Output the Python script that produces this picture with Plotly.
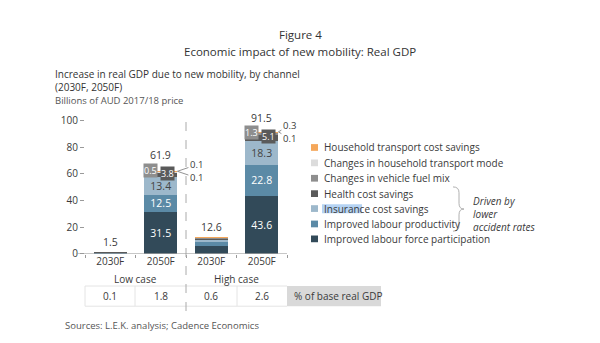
import plotly.graph_objects as go

# ---------------- data ----------------
bar_labels = ["2030F", "2050F", "2030F", "2050F"]
case_labels = ["Low case", "High case"]
series_names = [
    "Improved labour force participation",
    "Improved labour productivity",
    "Insurance cost savings",
    "Health cost savings",
    "Changes in vehicle fuel mix",
    "Changes in household transport mode",
    "Household transport cost savings",
]
participation = [0.8, 31.5, 6.0, 43.6]
productivity = [0.3, 12.5, 3.0, 22.8]
insurance = [0.3, 13.4, 2.3, 18.3]
health = [0.1, 3.8, 0.7, 5.1]
fuel_mix = [0.0, 0.5, 0.3, 1.3]
transport_mode = [0.0, 0.1, 0.1, 0.1]
transport_cost = [0.0, 0.1, 0.2, 0.3]
totals = [1.5, 61.9, 12.6, 91.5]
pct_base_gdp = ["0.1", "1.8", "0.6", "2.6"]

series_values = [participation, productivity, insurance, health,
                 fuel_mix, transport_mode, transport_cost]
colors = ["#324a59", "#5b8aa6", "#9db8cb", "#5a5a5a", "#8e8e8e", "#dcdcdc", "#f5a75a"]
# which segments carry an inside label (only the big 2050F ones)
inside_label_font = ["white", "white", "#444444", None, None, None, None]

FONT = "Open Sans"
W, H = 600, 343
TXT = "#3a3a3a"


def px(x):
    return x / W


def py(y):
    return 1 - y / H


x_pos = list(range(len(bar_labels)))
fig = go.Figure()
for i, (name, vals, col) in enumerate(zip(series_names, series_values, colors)):
    txt = []
    for j, v in enumerate(vals):
        if inside_label_font[i] is not None and bar_labels[j] == "2050F":
            txt.append(f"{v:.1f}")
        else:
            txt.append("")
    fig.add_trace(go.Bar(
        x=x_pos, y=vals, name=name, marker=dict(color=col, line=dict(width=0)),
        width=0.66, text=txt, textposition="inside", insidetextanchor="middle",
        textangle=0, constraintext="none",
        textfont=dict(color=inside_label_font[i] or "white", size=10.5, family=FONT),
        showlegend=False, hoverinfo="name+y",
    ))

ann = []
shapes = []


def A(**kw):
    kw.setdefault("showarrow", False)
    kw.setdefault("yanchor", "middle")
    kw.setdefault("xanchor", "center")
    ann.append(kw)


# totals above bars
total_shift = [1, 7, 1, 5]
for j, t in enumerate(totals):
    A(x=j, y=t, xref="x", yref="y", text=f"{t:.1f}", yanchor="bottom",
      yshift=total_shift[j], font=dict(size=10.5, color=TXT, family=FONT))

# boxed small labels on 2050F bars (fuel mix and health)
box_shift = {1: (2, -1), 3: (2, -2)}
for j in [1, 3]:
    top_h = participation[j] + productivity[j] + insurance[j] + health[j]
    s_fuel, s_health = box_shift[j]
    A(x=j, y=top_h, xref="x", yref="y", text=f"{fuel_mix[j]:.1f}",
      xshift=-10, yshift=s_fuel, bgcolor="#8e8e8e", borderpad=0,
      font=dict(size=9, color="white", family=FONT))
    A(x=j, y=top_h, xref="x", yref="y", text=f"{health[j]:.1f}",
      xshift=7, yshift=s_health, bgcolor="#5a5a5a", borderpad=0,
      font=dict(size=9, color="white", family=FONT))
    # leader-line labels for household mode / cost
    dx = 19 if j == 1 else 11
    A(x=j + 0.33, y=totals[j], xref="x", yref="y",
      text=f"{transport_cost[j]:.1f}", showarrow=True, arrowhead=0,
      arrowwidth=0.8, arrowcolor="#777777", ax=dx, ay=-6.5,
      font=dict(size=9.5, color=TXT, family=FONT))
    A(x=j + 0.33, y=totals[j], xref="x", yref="y",
      text=f"{transport_mode[j]:.1f}", showarrow=True, arrowhead=0,
      arrowwidth=0.8, arrowcolor="#777777", ax=dx, ay=6.5,
      font=dict(size=9.5, color=TXT, family=FONT))

# case labels
for k, c in enumerate(case_labels):
    A(x=0.5 + 2 * k, y=py(283), xref="x", yref="paper", text=c,
      font=dict(size=10, color=TXT, family=FONT))

# table values
for j, v in enumerate(pct_base_gdp):
    A(x=j, y=py(300.5), xref="x", yref="paper", text=v,
      font=dict(size=10, color=TXT, family=FONT))
shapes.append(dict(type="rect", xref="paper", yref="paper", x0=px(287), x1=px(381),
                   y0=py(311), y1=py(290), fillcolor="#d9d9d9", line=dict(width=0)))
A(x=px(292), y=py(300.5), xref="paper", yref="paper", xanchor="left",
  text="% of base real GDP", font=dict(size=10, color=TXT, family=FONT))
for yy in [290, 311]:
    shapes.append(dict(type="line", xref="paper", yref="paper", x0=px(85), x1=px(287),
                       y0=py(yy), y1=py(yy), line=dict(color="#e4e4e4", width=1)))
for xx in [85, 135, 237]:
    shapes.append(dict(type="line", xref="paper", yref="paper", x0=px(xx), x1=px(xx),
                       y0=py(290), y1=py(311), line=dict(color="#e4e4e4", width=1)))

# dashed divider
shapes.append(dict(type="line", xref="x", yref="paper", x0=1.5, x1=1.5,
                   y0=py(316), y1=py(117), line=dict(color="#aaaaaa", width=1, dash="dash")))
# baseline
shapes.append(dict(type="line", xref="paper", yref="y", x0=px(76), x1=px(287),
                   y0=0, y1=0, line=dict(color="#9a9a9a", width=1)))

# manual legend (top = last series)
row_y = [146, 162, 178, 194, 209.5, 225.5, 241]
for r, idx in enumerate(reversed(range(len(series_names)))):
    yc = row_y[r]
    if series_names[idx].startswith("Insurance"):
        shapes.append(dict(type="rect", xref="paper", yref="paper", x0=px(322), x1=px(362),
                           y0=py(214.5), y1=py(205), fillcolor="#b5d3f3", line=dict(width=0)))
    shapes.append(dict(type="rect", xref="paper", yref="paper", x0=px(311), x1=px(318),
                       y0=py(yc + 3.5), y1=py(yc - 3.5), fillcolor=colors[idx],
                       line=dict(width=0)))
    A(x=px(322), y=py(yc), xref="paper", yref="paper", xanchor="left",
      text=series_names[idx], font=dict(size=10, color=TXT, family=FONT))

# brace
pts = "M{},{} Q{},{} {},{} L{},{} Q{},{} {},{} Q{},{} {},{} L{},{} Q{},{} {},{}".format(
    px(453), py(187), px(459), py(187), px(459), py(193), px(459), py(204),
    px(459), py(210), px(464), py(210), px(459), py(210), px(459), py(216),
    px(459), py(227), px(459), py(233), px(453), py(233))
shapes.append(dict(type="path", xref="paper", yref="paper", path=pts,
                   line=dict(color="#b0b0b0", width=1)))
A(x=px(471), y=py(215.5), xref="paper", yref="paper", xanchor="left", align="left",
  text="<i>Driven by<br>lower<br>accident rates</i>",
  font=dict(size=10, color=TXT, family=FONT))

# titles
A(x=0.5, y=py(29), xref="paper", yref="paper", text="Figure 4",
  font=dict(size=11.5, color="#333333", family=FONT))
A(x=0.5, y=py(46), xref="paper", yref="paper",
  text="Economic impact of new mobility: Real GDP",
  font=dict(size=11.5, color="#333333", family=FONT))
A(x=px(53), y=py(83.5), xref="paper", yref="paper", xanchor="left", align="left",
  text=("Increase in real GDP due to new mobility, by channel<br>(2030F, 2050F)<br>"
        "<span style='font-size:9.5px;color:#555555'>Billions of AUD 2017/18 price</span>"),
  font=dict(size=10, color="#333333", family=FONT))
A(x=px(63), y=py(331.5), xref="paper", yref="paper", xanchor="left",
  text="Sources: L.E.K. analysis; Cadence Economics",
  font=dict(size=9.5, color="#555555", family=FONT))

fig.update_layout(
    width=W, height=H, autosize=False,
    margin=dict(l=0, r=0, t=0, b=0),
    paper_bgcolor="white", plot_bgcolor="white",
    barmode="stack", bargap=0.34,
    font=dict(family=FONT, color=TXT),
    xaxis=dict(domain=[px(85), px(287)], range=[-0.5, 3.5], tickvals=x_pos,
               ticktext=bar_labels, ticks="", showline=False, showgrid=False,
               zeroline=False, tickfont=dict(size=10, color=TXT, family=FONT),
               minor=dict(tickmode="array", tickvals=[-0.5, 0.5, 1.5, 2.5, 3.5],
                          ticks="outside", ticklen=3, tickcolor="#9a9a9a", showgrid=False)),
    yaxis=dict(domain=[1 - 256.5 / H, 1 - 118 / H], range=[0, 100],
               tickvals=[0, 20, 40, 60, 80, 100], ticks="outside", ticklen=4,
               tickcolor="#9a9a9a", showline=False, showgrid=False, zeroline=False,
               tickfont=dict(size=10, color=TXT, family=FONT)),
    annotations=ann, shapes=shapes,
)

fig.write_html("out.html")
